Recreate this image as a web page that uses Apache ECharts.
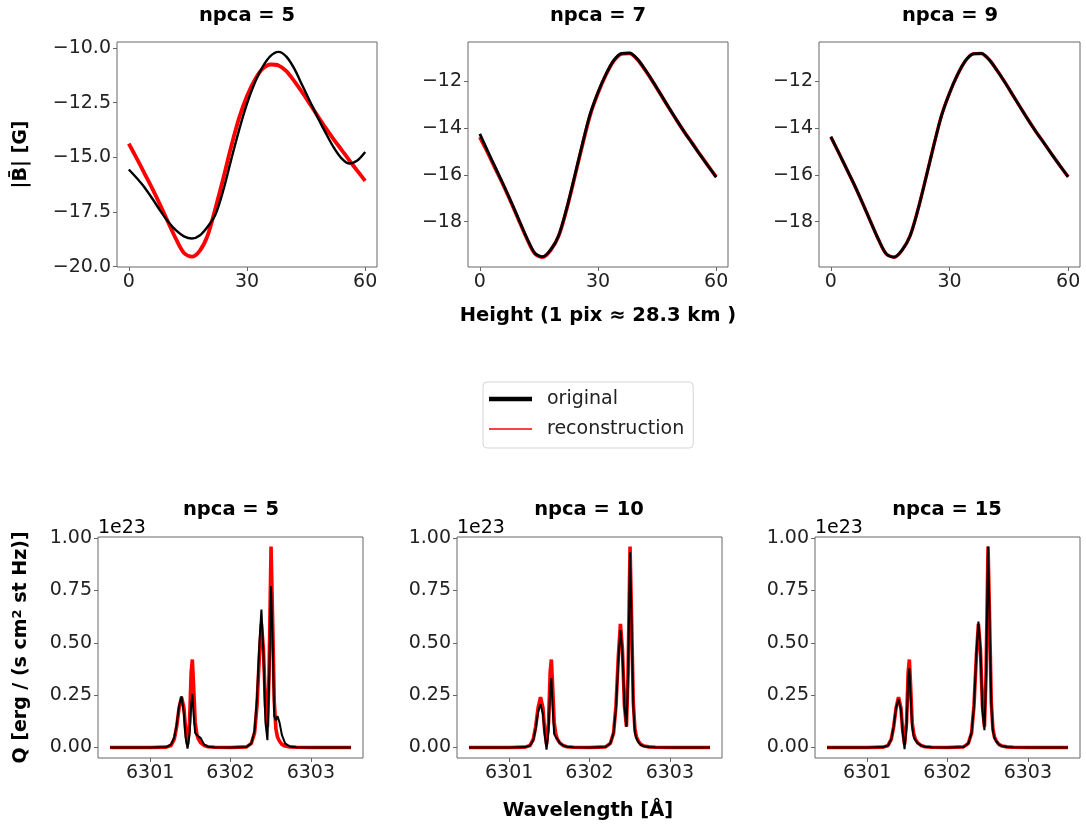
<!DOCTYPE html>
<html>
<head>
<meta charset="utf-8">
<script src="https://cdn.jsdelivr.net/npm/echarts@6/dist/echarts.min.js"></script>
<style>
html,body{margin:0;padding:0;background:#fff;}
#main{width:1086px;height:827px;}
</style>
</head>
<body>
<div id="main"></div>
<script>
// ---------- data ----------
const heightPix = [0,2,4,6,8,10,12,14,16,18,20,22,24,26,28,30,32,34,36,38,40,42,44,46,48,50,52,54,56,58,60];
// npca = 5 panel
const bRed5 = [-14.38,-15.05,-15.75,-16.45,-17.20,-17.98,-18.75,-19.38,-19.55,-19.28,-18.58,-17.32,-15.95,-14.50,-13.20,-12.20,-11.45,-10.95,-10.76,-10.80,-11.06,-11.52,-12.03,-12.58,-13.13,-13.67,-14.18,-14.66,-15.15,-15.62,-16.08];
const bBlack5 = [-15.56,-15.95,-16.38,-16.90,-17.45,-17.95,-18.35,-18.62,-18.72,-18.58,-18.18,-17.62,-16.50,-15.10,-13.75,-12.55,-11.58,-10.85,-10.36,-10.18,-10.40,-10.95,-11.70,-12.45,-13.20,-13.90,-14.55,-15.05,-15.29,-15.15,-14.76];
// npca = 7 and npca = 9 panels
const bRed = [-14.38,-15.05,-15.75,-16.45,-17.20,-17.98,-18.75,-19.38,-19.52,-19.22,-18.62,-17.50,-16.15,-14.75,-13.45,-12.50,-11.72,-11.12,-10.82,-10.80,-11.06,-11.52,-12.03,-12.58,-13.13,-13.67,-14.18,-14.66,-15.15,-15.62,-16.08];
const bBlack7 = [-14.24,-14.98,-15.70,-16.42,-17.17,-17.95,-18.72,-19.35,-19.50,-19.20,-18.60,-17.46,-16.10,-14.70,-13.40,-12.46,-11.70,-11.10,-10.80,-10.78,-11.04,-11.50,-12.02,-12.57,-13.12,-13.66,-14.18,-14.67,-15.16,-15.63,-16.10];
const bBlack9 = [-14.36,-15.05,-15.75,-16.45,-17.20,-17.98,-18.75,-19.38,-19.52,-19.22,-18.62,-17.50,-16.15,-14.75,-13.45,-12.50,-11.72,-11.12,-10.82,-10.80,-11.06,-11.52,-12.03,-12.58,-13.13,-13.67,-14.18,-14.66,-15.15,-15.62,-16.08];

const wavelength = [6300.50,6301.00,6301.20,6301.26,6301.30,6301.33,6301.36,6301.39,6301.42,6301.44,6301.465,6301.49,6301.51,6301.525,6301.54,6301.56,6301.58,6301.60,6301.63,6301.67,6301.72,6301.80,6302.00,6302.20,6302.26,6302.30,6302.33,6302.36,6302.385,6302.41,6302.435,6302.46,6302.48,6302.505,6302.525,6302.545,6302.565,6302.585,6302.61,6302.64,6302.68,6302.74,6302.82,6303.00,6303.50];
// Q in units of 1e23
const qRed = [0,0,0.002,0.01,0.04,0.10,0.19,0.24,0.19,0.09,0.015,0.12,0.36,0.42,0.30,0.12,0.065,0.04,0.022,0.01,0.004,0.001,0,0.003,0.02,0.07,0.20,0.44,0.59,0.47,0.20,0.10,0.35,0.96,0.60,0.22,0.09,0.05,0.03,0.015,0.007,0.003,0.001,0,0];
const qBlack5 = [0,0,0.002,0.015,0.05,0.11,0.20,0.245,0.16,0.05,-0.005,0.06,0.20,0.255,0.16,0.07,0.06,0.068,0.045,0.015,0.004,0.001,0,0.003,0.02,0.08,0.24,0.50,0.659,0.45,0.12,0.035,0.30,0.771,0.50,0.15,0.13,0.15,0.12,0.06,0.02,0.005,0.001,0,0];
const qBlack10 = [0,0,0.002,0.01,0.035,0.09,0.17,0.207,0.16,0.07,-0.01,0.08,0.27,0.332,0.20,0.064,0.05,0.04,0.022,0.01,0.004,0.001,0,0.003,0.02,0.07,0.19,0.42,0.561,0.45,0.20,0.099,0.33,0.933,0.58,0.20,0.07,0.043,0.025,0.012,0.006,0.003,0.001,0,0];
const qBlack15 = [0,0,0.002,0.01,0.04,0.10,0.19,0.231,0.18,0.08,-0.008,0.10,0.32,0.378,0.25,0.10,0.05,0.035,0.02,0.01,0.004,0.001,0,0.003,0.02,0.07,0.20,0.45,0.601,0.47,0.18,0.083,0.33,0.96,0.60,0.21,0.08,0.045,0.028,0.014,0.007,0.003,0.001,0,0];

const topTitles = ['npca = 5','npca = 7','npca = 9'];
const bottomTitles = ['npca = 5','npca = 10','npca = 15'];
const heightTicks = [0,30,60];
const bTicks1 = [-20,-17.5,-15,-12.5,-10];
const bTicks23 = [-18,-16,-14,-12];
const wlTicks = [6301,6302,6303];
const qTicks = [0,0.25,0.5,0.75,1.0];

// ---------- chart ----------
const FONT = 'DejaVu Sans';
const pair = (xs, ys) => xs.map((x,i)=>[x, ys[i]]);
const minus = s => s.replace('-', '\u2212');

const grids = [
  {left:117, top:42, width:260, height:225},
  {left:468, top:42, width:260, height:225},
  {left:819, top:42, width:261, height:225},
  {left:98,  top:537, width:265, height:221},
  {left:457, top:537, width:265, height:221},
  {left:815, top:537, width:265, height:221}
];
grids.forEach(g=>{g.show=true; g.borderColor='#666'; g.borderWidth=1; g.backgroundColor='transparent'; g.containLabel=false;});

function baseAx(i, min, max, ticks, fmt){
  return {type:'value', gridIndex:i, min:min, max:max,
    axisLine:{show:false, onZero:false}, splitLine:{show:false},
    axisTick:{show:true, length:4, lineStyle:{color:'#666'}, customValues:ticks},
    axisLabel:{show:true, margin:6, fontSize:19, fontFamily:FONT, color:'#222', customValues:ticks, formatter:fmt}};
}
function yAx(i, min, max, ticks, fmt, name, extra){
  const a = baseAx(i, min, max, ticks, fmt);
  a.position = 'left';
  if(name){ Object.assign(a, {name:name, nameLocation:'middle', nameRotate:90}, extra); }
  return a;
}
function xAx(i, min, max, ticks, fmt){
  const a = baseAx(i, min, max, ticks, fmt);
  a.position = 'bottom';
  return a;
}
const fmtInt = v => minus(String(Math.round(v)));
const fmt1 = v => minus(v.toFixed(1));
const fmt2 = v => minus(v.toFixed(2));

const xAxis = [
  xAx(0,-3,63,heightTicks,fmtInt), xAx(1,-3,63,heightTicks,fmtInt), xAx(2,-3,63,heightTicks,fmtInt),
  xAx(3,6300.35,6303.65,wlTicks,fmtInt), xAx(4,6300.35,6303.65,wlTicks,fmtInt), xAx(5,6300.35,6303.65,wlTicks,fmtInt)
];
const yAxis = [
  yAx(0,-20.02,-9.73,bTicks1,fmt1,'|B\u0304| [G]',{nameGap:86, nameTextStyle:{fontSize:19, fontWeight:'bold', fontFamily:FONT, color:'#000'}}),
  yAx(1,-19.94,-10.31,bTicks23,fmtInt), yAx(2,-19.94,-10.31,bTicks23,fmtInt),
  yAx(3,-0.05,1.005,qTicks,fmt2,'Q [erg / (s cm{sup|2} st Hz)]',{nameGap:66, nameTextStyle:{fontSize:19, fontWeight:'bold', fontFamily:FONT, color:'#000',
      rich:{sup:{fontSize:13, fontWeight:'bold', fontFamily:FONT, color:'#000', verticalAlign:'top', padding:[0,0,8,0]}}}}),
  yAx(4,-0.05,1.005,qTicks,fmt2), yAx(5,-0.05,1.005,qTicks,fmt2)
];

function line(i, name, data, color, width){
  return {type:'line', name:name, xAxisIndex:i, yAxisIndex:i, data:data, showSymbol:false, symbol:'none',
    lineStyle:{color:color, width:width}, itemStyle:{color:color}, z: color==='#000000'?3:2, silent:true};
}
const RED = '#ff0000', BLK = '#000000';
const SM = 0.3;
const series = [
  Object.assign(line(0,'reconstruction',pair(heightPix,bRed5),RED,3.8),{smooth:SM}),
  Object.assign(line(0,'original',pair(heightPix,bBlack5),BLK,2.4),{smooth:SM}),
  Object.assign(line(1,'reconstruction',pair(heightPix,bRed),RED,3.6),{smooth:SM}),
  Object.assign(line(1,'original',pair(heightPix,bBlack7),BLK,2.8),{smooth:SM}),
  Object.assign(line(2,'reconstruction',pair(heightPix,bRed),RED,3.4),{smooth:SM}),
  Object.assign(line(2,'original',pair(heightPix,bBlack9),BLK,2.8),{smooth:SM}),
  line(3,'reconstruction',pair(wavelength,qRed),RED,3.6),
  line(3,'original',pair(wavelength,qBlack5),BLK,2),
  line(4,'reconstruction',pair(wavelength,qRed),RED,3.6),
  line(4,'original',pair(wavelength,qBlack10),BLK,2),
  line(5,'reconstruction',pair(wavelength,qRed),RED,3.6),
  line(5,'original',pair(wavelength,qBlack15),BLK,2)
];

function txt(x, y, text, size, bold, align){
  return {type:'text', x:x, y:y, silent:true,
    style:{text:text, fill:'#000', font:(bold?'bold ':'')+size+'px "'+FONT+'"', textAlign:align||'center', textVerticalAlign:'middle'}};
}
const graphic = [
  txt(247,16,topTitles[0],19.5,true), txt(598,16,topTitles[1],19.5,true), txt(950,16,topTitles[2],19.5,true),
  txt(231,510,bottomTitles[0],19.5,true), txt(589,510,bottomTitles[1],19.5,true), txt(947,510,bottomTitles[2],19.5,true),
  txt(598,316,'Height (1 pix \u2248 28.3 km )',19.5,true),
  txt(588,811,'Wavelength [\u00c5]',19.5,true),
  txt(98,528,'1e23',19,false,'left'), txt(457,528,'1e23',19,false,'left'), txt(815,528,'1e23',19,false,'left')
];

const option = {
  animation:false,
  backgroundColor:'#ffffff',
  grid:grids, xAxis:xAxis, yAxis:yAxis, series:series, graphic:graphic,
  legend:{
    orient:'vertical', left:483, top:382, selectedMode:false,
    padding:[6,9,8,6], itemGap:8, itemWidth:43, itemHeight:14,
    borderColor:'#d5d5d5', borderWidth:1, borderRadius:4, backgroundColor:'#fff',
    textStyle:{fontSize:19, fontFamily:FONT, color:'#222', padding:[0,0,0,10], lineHeight:22},
    data:[
      {name:'original', icon:'path://M0 0H43V4.5H0Z', itemStyle:{color:'#000'}},
      {name:'reconstruction', icon:'path://M0 0H43V1.5H0Z', itemStyle:{color:'#ff0000'}}
    ]
  }
};
const chart = echarts.init(document.getElementById('main'), null, {renderer:'canvas'});
chart.setOption(option);
</script>
</body>
</html>
